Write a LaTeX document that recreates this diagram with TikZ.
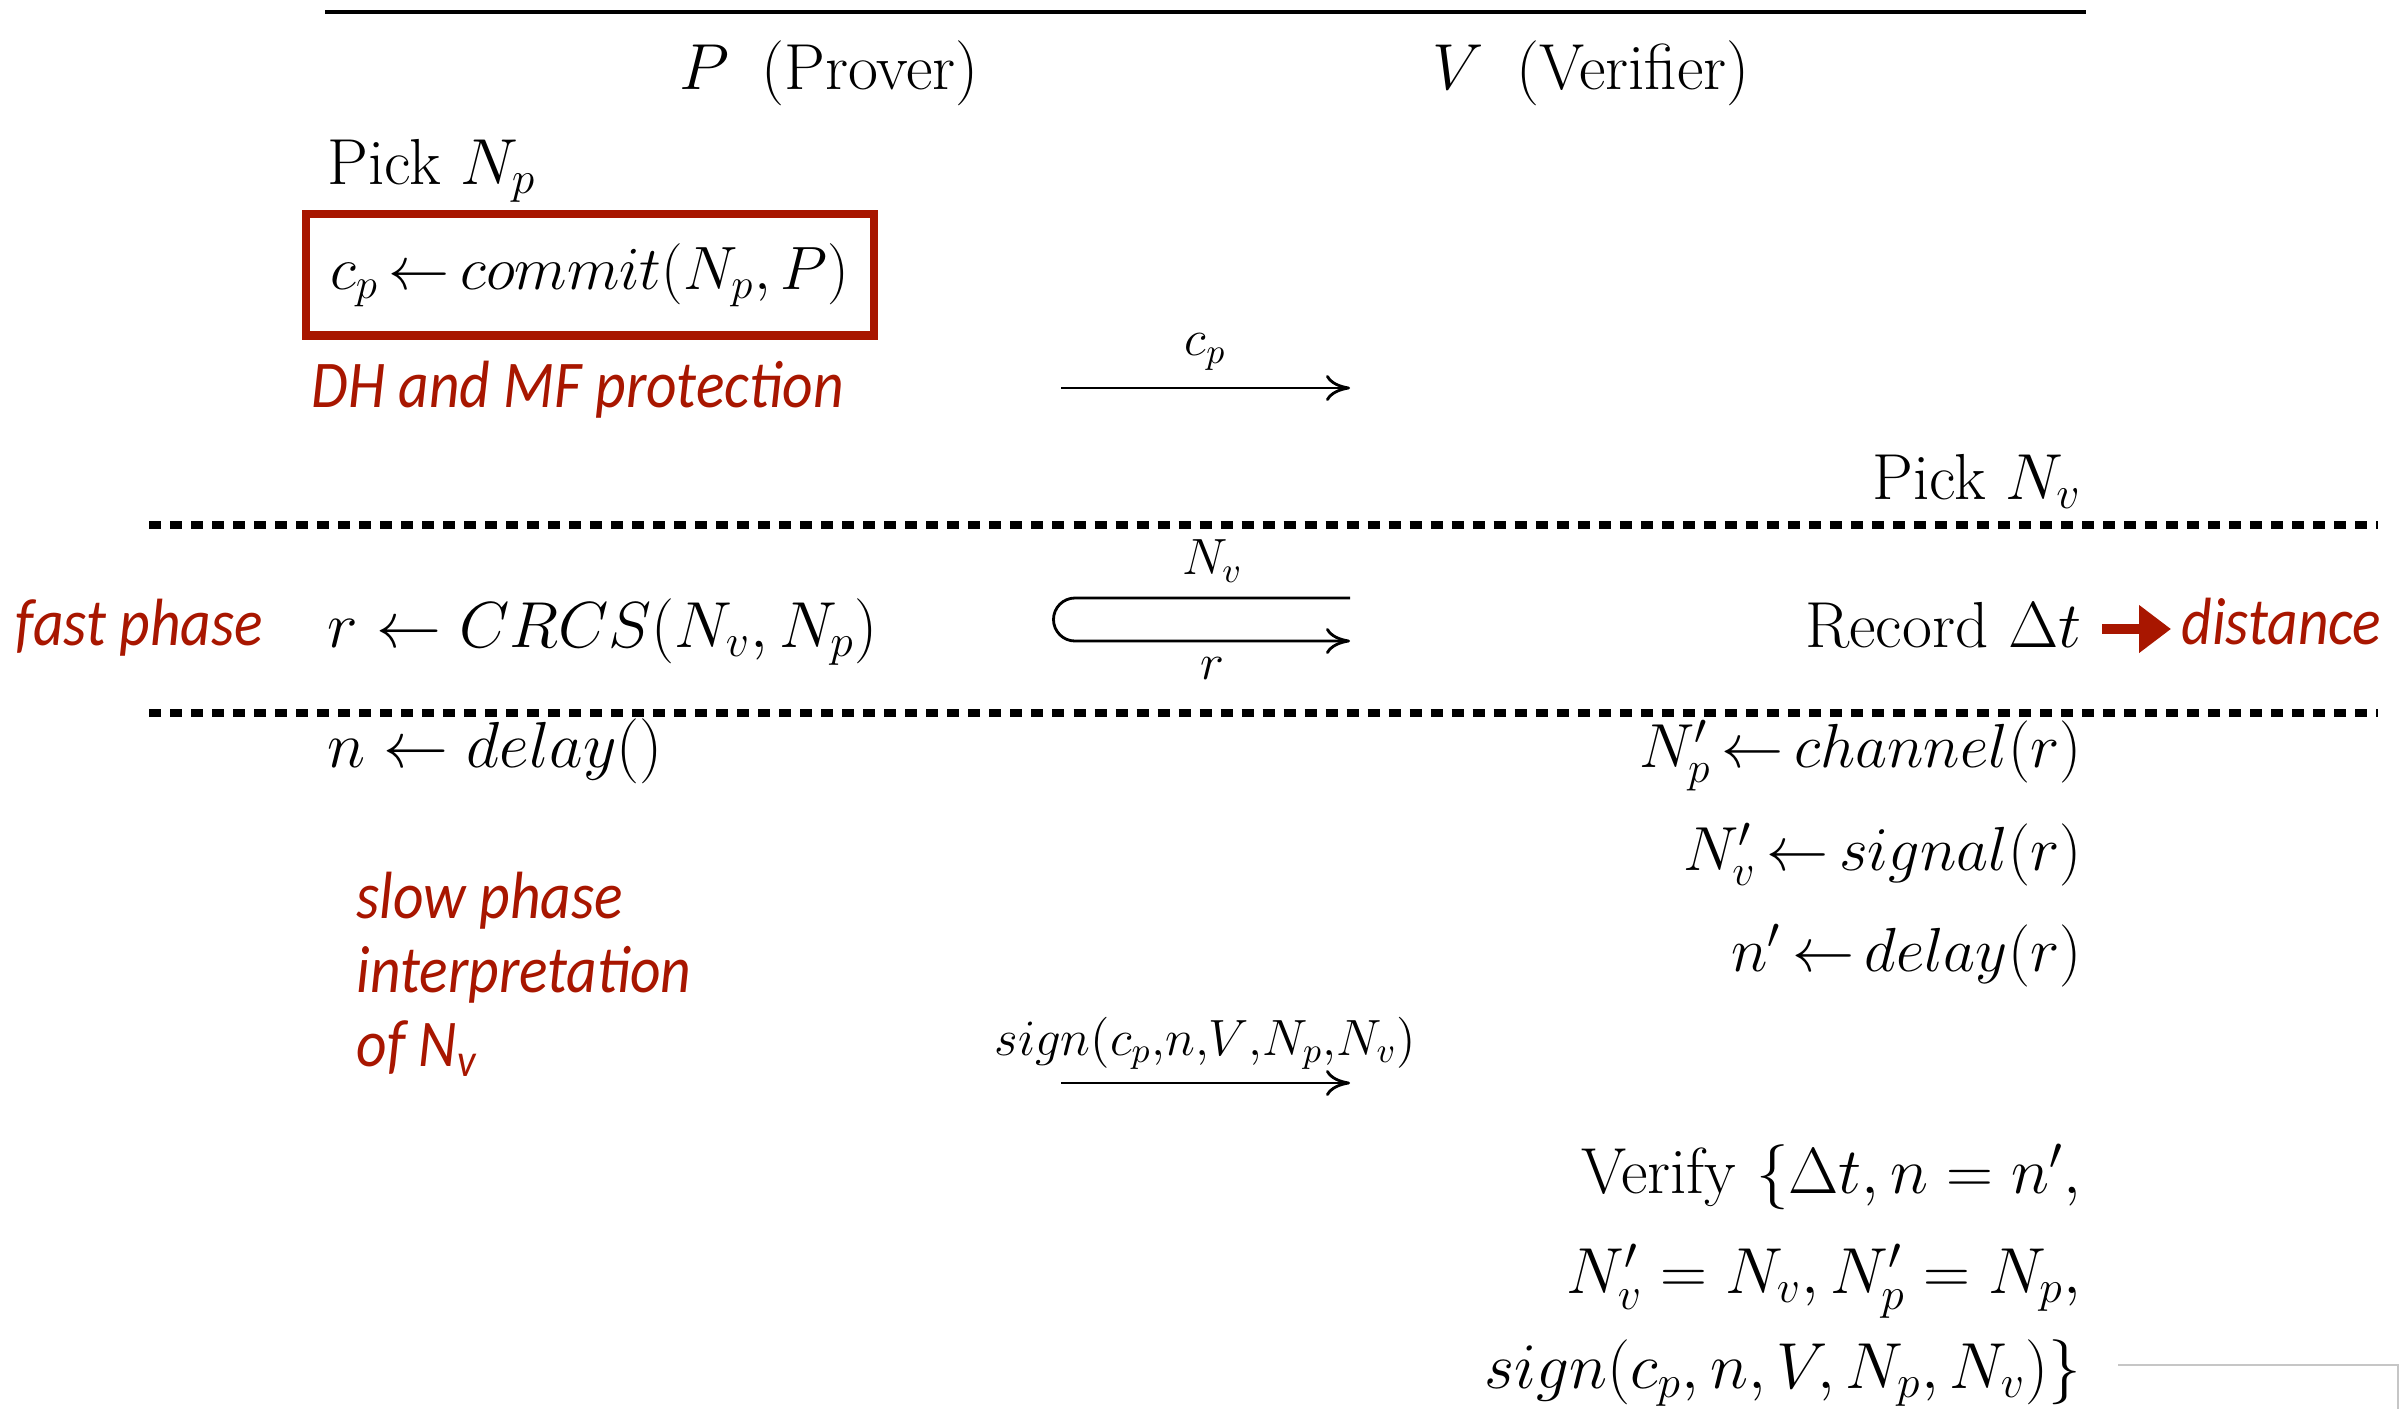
\RequirePackage{fix-cm}
\documentclass[tikz,border=0pt]{standalone}
\usepackage{fontspec}
\newfontfamily\notefont{Carlito}[FakeStretch=0.89]
\usepackage{tikz}
\usetikzlibrary{arrows.meta,calc}
\definecolor{notered}{RGB}{168,22,0}

\begin{document}
\begin{tikzpicture}[x=0.01cm,y=-0.01cm,>={To[length=2.4mm,width=2.6mm]},
  every node/.style={font=\fontsize{18.5}{22}\selectfont,inner sep=0pt},
  tight/.style={font=\fontsize{17.7}{21}\selectfont},
  note/.style={font=\notefont\itshape\fontsize{19}{21}\selectfont,text=notered},
  lbl/.style={font=\fontsize{14.5}{17}\selectfont},
  msg/.style={->,line width=0.8pt},
  phase/.style={line width=2pt,dash pattern=on 0.12cm off 0.09cm}]
\useasboundingbox (0,0) rectangle (2405,1409);
\draw[line width=1pt] (325,12) -- (2086,12);
\node[anchor=base](prover) at (829,89) {$P$\enskip(Prover)};
\node[anchor=base](verifier) at (1591,89) {$V$\enskip(Verifier)};
% commitment
\node[anchor=base west](pickNp) at (327,184) {Pick $N_p$};
\node[anchor=base west,draw=notered,line width=2.3pt,inner xsep=0.24cm,inner ysep=0.29cm,font=\fontsize{17.4}{21}\selectfont](commit) at (302,289) {$c_p\,{\leftarrow}\,commit(N_p,P)$};
\node[note,anchor=base west](dhmf) at (311,407) {DH and MF protection};
\coordinate (cpfrom) at (1061,388); \coordinate (cpto) at (1350,388);
\draw[msg](cpfrom)--node[lbl,above=0.16cm]{$c_p$}(cpto);
\node[anchor=base east](pickNv) at (2082,499) {Pick $N_v$};
% fast phase
\draw[phase](149,525)--(2378,525);
\node[note,anchor=base west](fast) at (15,645) {fast phase};
\node[anchor=base west](crcs) at (327,647) {$r \leftarrow CRCS(N_v,N_p)$};
\coordinate (nvfrom) at (1350,598); \coordinate (rto) at (1350,641);
\draw[msg](nvfrom)--node[lbl,above=0.14cm]{$N_v$}++(-275,0) arc[start angle=90,end angle=270,radius=0.215cm]--node[lbl,below=0.15cm]{$r$}(rto);
\node[anchor=base east](record) at (2082,647) {Record $\Delta t$};
\node[note,anchor=base west](dist) at (2181,644) {distance};
\draw[notered,line width=3pt,-{Triangle[length=0.32cm,width=0.46cm]}]($(record.base east)+(20,-18)$)--($(dist.base west)+(-10,-15)$);
\draw[phase](149,713)--(2378,713);
% slow phase
\node[anchor=base west](delay) at (327,767) {$n \leftarrow delay()$};
\node[tight,anchor=base east](channel) at (2082,767) {$N'_p\,{\leftarrow}\,channel(r)$};
\node[tight,anchor=base east](signal) at (2082,870) {$N'_v\,{\leftarrow}\,signal(r)$};
\node[tight,anchor=base east](ndelay) at (2082,971) {$n'\,{\leftarrow}\,delay(r)$};
\node[note,anchor=base west,align=left](slow) at (356,1066) {slow phase\\interpretation\\of N\textsubscript{v}};
\coordinate (sgfrom) at (1061,1083); \coordinate (sgto) at (1350,1083);
\draw[msg](sgfrom)--node[lbl,above=0.12cm]{$sign(c_p{,}n{,}V{,}N_p{,}N_v)$}(sgto);
\node[anchor=base east](verify) at (2082,1193) {Verify $\{\Delta t, n = n',$};
\node[anchor=base east](eqs) at (2082,1293) {$N'_v = N_v, N'_p = N_p,$};
\node[anchor=base east](sig) at (2082,1388) {$sign(c_p, n, V, N_p, N_v)\}$};
\draw[gray!45,line width=0.6pt](2118,1365)--(2398,1365)--(2398,1409);
\end{tikzpicture}
\end{document}
